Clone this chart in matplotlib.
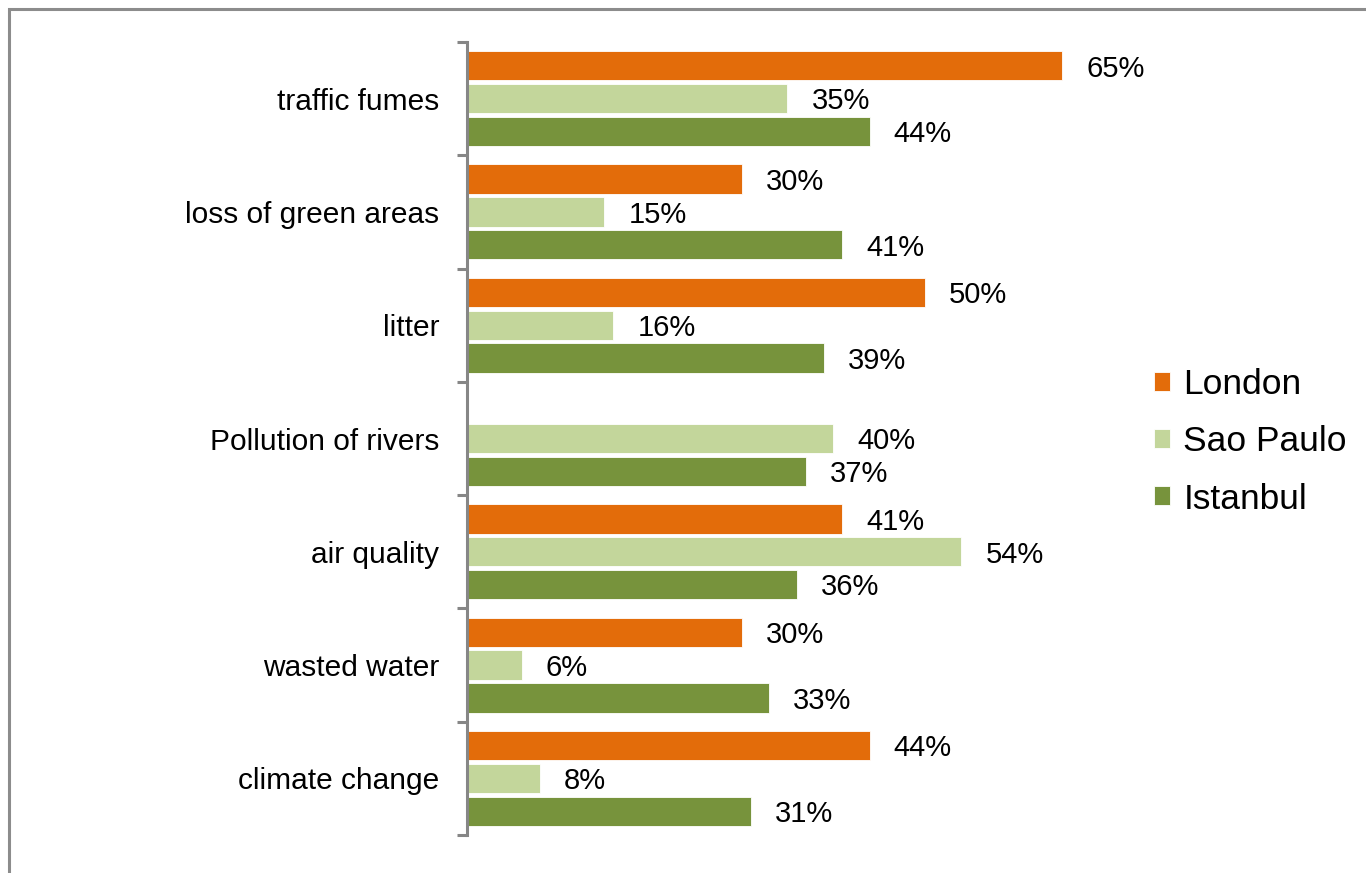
import matplotlib
matplotlib.use("Agg")
import matplotlib.pyplot as plt
from matplotlib.patches import Rectangle
import numpy as np

categories = ["traffic fumes", "loss of green areas", "litter", "Pollution of rivers",
              "air quality", "wasted water", "climate change"]
series_names = ["London", "Sao Paulo", "Istanbul"]
london = [65, 30, 50, None, 41, 30, 44]
sao_paulo = [35, 15, 16, 40, 54, 6, 8]
istanbul = [44, 41, 39, 37, 36, 33, 31]

colors = ["#E36C0A", "#C3D69B", "#77933C"]

plt.rcParams['font.family'] = ['Liberation Sans', 'DejaVu Sans']

W, H = 1366, 873
fig = plt.figure(figsize=(W / 100, H / 100), dpi=100)

# figure border
fig.patches.append(Rectangle((9 / W, -0.05), 1.2, 1 - 9 / H + 0.05, transform=fig.transFigure,
                             fill=False, edgecolor="#8C8C8C", linewidth=2.2))

ax_left, ax_right = 467, 1100
ax_top, ax_bot = 42, 835
ax = fig.add_axes([ax_left / W, 1 - ax_bot / H, (ax_right - ax_left) / W, (ax_bot - ax_top) / H])
px_per_unit = (1063 - 468) / 65.0
ax.set_xlim(0, (ax_right - ax_left) / px_per_unit)
ax.set_ylim(len(categories) - 0.5, -0.5)

y = np.arange(len(categories))
bar_h = 0.258
offsets = [-0.29, 0.0, 0.29]
all_series = [london, sao_paulo, istanbul]
for vals, off, col, name in zip(all_series, offsets, colors, series_names):
    ys, vs = [], []
    for yi, v in zip(y, vals):
        if v is None:
            continue
        ys.append(yi + off)
        vs.append(v)
    ax.barh(ys, vs, height=bar_h, color=col, label=name, edgecolor="white", linewidth=0.6)
    for yi, v in zip(ys, vs):
        ax.annotate(f"{v}%", xy=(v, yi), xytext=(24 * 0.72, -2), textcoords="offset points",
                    ha="left", va="center", fontsize=21, color="black")

for s in ["top", "right", "bottom"]:
    ax.spines[s].set_visible(False)
ax.spines["left"].set_color("#868686")
ax.spines["left"].set_linewidth(2.2)
ax.set_xticks([])

ax.set_yticks(np.arange(-0.5, len(categories), 1.0))
ax.set_yticklabels([])
ax.tick_params(axis="y", which="major", length=7, width=2.2, color="#868686", direction="out")
ax.set_yticks(y, minor=True)
ax.set_yticklabels(categories, minor=True, fontsize=21.5)
ax.tick_params(axis="y", which="minor", length=0, pad=20)

leg = fig.legend(loc="center left", bbox_to_anchor=(1154 / W, 1 - 442 / H), frameon=False,
                 fontsize=25.5, handlelength=0.45, handleheight=0.45, handletextpad=0.38,
                 labelspacing=0.68, borderpad=0, borderaxespad=0)

fig.savefig("out.png", dpi=100)
